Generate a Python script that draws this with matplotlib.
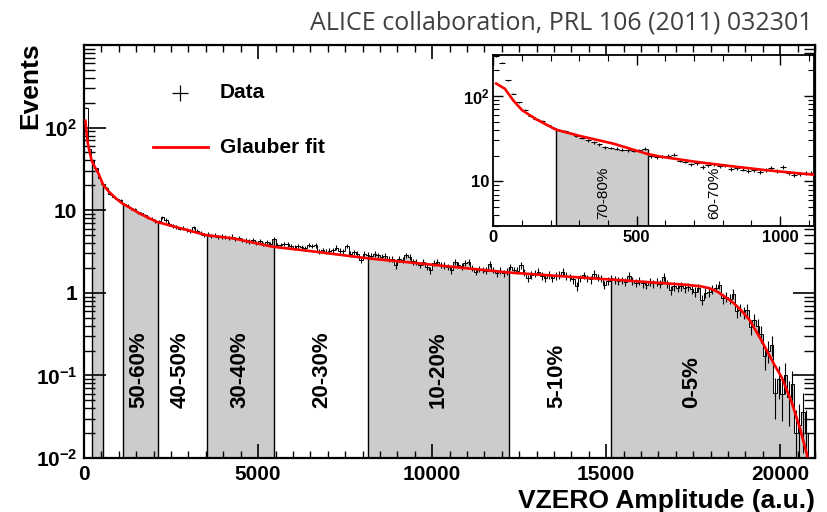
import numpy as np
import matplotlib.pyplot as plt
from matplotlib.ticker import MultipleLocator, FixedLocator, FixedFormatter, LogLocator, NullFormatter

plt.rcParams['font.family'] = ['Liberation Sans', 'DejaVu Sans']
plt.rcParams['font.weight'] = 'bold'
plt.rcParams['mathtext.fontset'] = 'custom'
plt.rcParams['mathtext.rm'] = 'Liberation Sans'
plt.rcParams['mathtext.bf'] = 'Liberation Sans:bold'

# VZERO amplitude histogram, bins of 100 a.u. starting at 0
bin_width = 100
events = [
    175, 55, 40, 32, 24.5, 21, 18.5, 15.8, 14.4, 13.7, 13.2, 11.9, 11.3, 10.6, 10.3, 9.5, 9.2, 8.7, 8.1, 7.9,
    7.4, 7.3, 8.2, 7.6, 6.8, 6.5, 6.3, 6.0, 6.1, 5.7, 5.6, 6.2, 5.6, 5.3, 5.0, 5.1, 4.9, 5.0, 4.7, 4.8,
    4.7, 4.6, 4.8, 4.5, 4.6, 4.4, 4.3, 4.2, 4.3, 4.0, 4.2, 3.9, 4.1, 3.9, 4.5, 3.8, 3.75, 3.9, 3.85, 3.7,
    3.5, 3.65, 3.55, 3.45, 3.8, 3.7, 3.75, 3.2, 3.3, 3.15, 3.25, 3.3, 3.5, 3.25, 3.2, 3.7, 2.95, 3.1, 2.95, 2.5,
    2.95, 2.9, 2.8, 2.95, 2.85, 2.75, 2.78, 2.6, 2.55, 2.15, 2.6, 2.5, 2.85, 2.7, 2.4, 2.36, 2.2, 2.35, 2.05, 1.87,
    2.3, 2.36, 2.2, 2.15, 2.05, 1.87, 2.36, 2.2, 2.1, 2.3, 2.36, 2.0, 1.8, 1.95, 1.9, 1.85, 2.25, 1.9, 1.72, 1.85,
    1.73, 1.8, 2.05, 1.9, 1.85, 2.15, 1.75, 1.5, 1.65, 1.7, 1.8, 1.6, 1.5, 1.65, 1.5, 1.6, 1.65, 1.8, 1.6, 1.55,
    1.45, 1.2, 1.5, 1.63, 1.5, 1.45, 1.7, 1.55, 1.5, 1.25, 1.4, 1.5, 1.45, 1.38, 1.42, 1.35, 1.6, 1.4, 1.32, 1.38,
    1.3, 1.24, 1.35, 1.3, 1.36, 1.28, 1.56, 1.3, 1.08, 1.2, 1.15, 1.2, 1.13, 1.18, 1.1, 1.03, 1.15, 0.82, 1.0, 1.03,
    1.1, 1.15, 1.24, 0.86, 0.9, 0.85, 0.98, 0.6, 0.62, 0.58, 0.62, 0.39, 0.47, 0.4, 0.32, 0.17, 0.2, 0.235, 0.062, 0.09,
    0.06, 0.1, 0.055, 0.078, 0.02, 0.025, 0.036, 0.02,
]

# zoom on the low-amplitude region, bins of 20 a.u.
inset_width = 20
inset_events = [
    290, 245, 152, 106, 84, 68, 58, 53, 51, 46, 42, 40, 39, 36.5, 34, 32, 30, 28.5, 27, 25,
    24.5, 24, 23.4, 23, 22.8, 23.2, 24, 19.5, 19.2, 19.6, 19.8, 20.5, 17.5, 17, 15.8, 16.2, 14.7, 15.4, 15.8, 15.2,
    15.3, 14.0, 14.4, 13.7, 13.1, 13.6, 12.9, 13.5, 14.3, 13.2, 14.7, 12.5, 11.8, 12.1, 12.6, 12.4,
]

# Glauber fit
fit_x = [10, 40, 70, 100, 150, 220, 300, 420, 535, 580, 700, 810, 950, 1110, 1300, 1600, 2100, 2800,
         3500, 4300, 5400, 6500, 8200, 9500, 10800, 12200, 13700, 15100, 16500, 17300, 17700, 17950,
         18180, 18400, 18650, 18900, 19130, 19470, 19800, 20045, 20330, 20570, 20780]
fit_y = [139, 121, 88, 68, 53, 40, 34, 27.5, 21, 19.5, 17, 15.3, 13.5, 12, 10.8, 9.1, 7.2, 6.0,
         5.0, 4.55, 3.62, 3.2, 2.6, 2.3, 2.02, 1.76, 1.59, 1.45, 1.32, 1.25, 1.2, 1.14,
         1.04, 0.9, 0.76, 0.6, 0.46, 0.26, 0.142, 0.094, 0.047, 0.0225, 0.0105]

# centrality class boundaries
cuts = [217, 538, 1112, 2117, 3534, 5459, 8168, 12210, 15132]
shaded = [(217, 538), (1112, 2117), (3534, 5459), (8168, 12210), (15132, 20800)]
classes = ['50-60%', '40-50%', '30-40%', '20-30%', '10-20%', '5-10%', '0-5%']
class_x = [1580, 2760, 4480, 6830, 10180, 13580, 17460]
inset_classes = ['70-80%', '60-70%']
inset_class_x = [384, 771]

vals = np.array(events, dtype=float)
edges = np.arange(len(vals) + 1) * bin_width
centers = edges[:-1] + bin_width / 2

ivals = np.array(inset_events, dtype=float)
iedges = np.arange(len(ivals) + 1) * inset_width
icenters = iedges[:-1] + inset_width / 2


def value_at(e, v, x):
    i = np.clip(np.searchsorted(e, x, side='right') - 1, 0, len(v) - 1)
    return v[i]


def fill_band(ax, e, v, a, b, bottom):
    inner = e[(e > a) & (e < b)]
    xs = np.concatenate([[a], inner, [b]])
    ys = value_at(e, v, xs[:-1])
    ys = np.append(ys, ys[-1])
    ax.fill_between(xs, ys, bottom, step='post', color='#cccccc', lw=0, zorder=1)


fig = plt.figure(figsize=(8.28, 5.12), dpi=100)
ax = fig.add_axes([0.1015, 0.1055, 0.8829, 0.8066])
ax.set_yscale('log')
ax.set_xlim(0, 21000)
ax.set_ylim(1e-2, 1e3)

for a, b in shaded:
    fill_band(ax, edges, vals, a, b, 1e-2)
for c in cuts:
    ax.vlines(c, 1e-2, value_at(edges, vals, c), color='black', lw=1.0, zorder=2)

err = np.sqrt(vals / 60)
ax.stairs(vals, edges, color='black', lw=0.7, zorder=3)
ax.errorbar(centers, vals, yerr=[np.minimum(err, vals * 0.999), err], fmt='none',
            ecolor='black', elinewidth=0.8, zorder=3)
# the fit drawn in the main pad starts a little above zero
ax.plot(fit_x[1:], fit_y[1:], color='red', lw=1.9, zorder=4)

for name, x in zip(classes, class_x):
    ax.text(x, 0.121, name, transform=ax.get_xaxis_transform(), rotation=90,
            ha='center', va='bottom', fontsize=16, zorder=5)

# legend
ax.plot([0.1313], [0.8838], marker='+', ms=11, mew=0.9, color='black', transform=ax.transAxes)
ax.plot([0.0944, 0.1696], [0.753, 0.753], color='red', lw=2, transform=ax.transAxes)
ax.text(0.186, 0.8838, 'Data', transform=ax.transAxes, va='center', fontsize=15)
ax.text(0.186, 0.753, 'Glauber fit', transform=ax.transAxes, va='center', fontsize=15)

ax.xaxis.set_major_locator(MultipleLocator(5000))
ax.xaxis.set_minor_locator(MultipleLocator(500))
ax.yaxis.set_major_locator(FixedLocator([1e-2, 1e-1, 1, 10, 100]))
ax.yaxis.set_major_formatter(FixedFormatter([r'$\mathbf{10^{-2}}$', r'$\mathbf{10^{-1}}$', '1', '10',
                                             r'$\mathbf{10^{2}}$']))
ax.yaxis.set_minor_locator(LogLocator(base=10, subs=range(2, 10), numticks=20))
ax.yaxis.set_minor_formatter(NullFormatter())
ax.tick_params(which='both', direction='in', top=True, right=True, labelsize=15)
ax.tick_params(axis='x', which='major', length=10, width=1.2, pad=5)
ax.tick_params(axis='x', which='minor', length=5, width=1)
ax.tick_params(axis='y', which='major', length=16, width=1.2, pad=5)
ax.tick_params(axis='y', which='minor', length=8, width=1)
for s in ax.spines.values():
    s.set_linewidth(1.6)

fig.text(0.0362, 0.833, 'Events', rotation=90, ha='center', va='center', fontsize=19)
fig.text(0.9843, 0.008, 'VZERO Amplitude (a.u.)', ha='right', va='baseline', fontsize=19)
fig.text(0.982, 0.943, 'ALICE collaboration, PRL 106 (2011) 032301', ha='right', va='baseline',
         fontsize=18, family='Open Sans', weight='normal', color='#404040')

# inset
axi = fig.add_axes([0.5958, 0.5586, 0.3877, 0.334])
axi.set_facecolor('white')
axi.set_yscale('log')
axi.set_xlim(0, 1120)
axi.set_ylim(3, 300)
fill_band(axi, iedges, ivals, 217, 538, 3)
for c in cuts[:2]:
    axi.vlines(c, 3, value_at(iedges, ivals, c), color='black', lw=1.0, zorder=2)
ierr = np.sqrt(ivals / 30)
axi.errorbar(icenters, ivals, xerr=inset_width / 2, yerr=ierr, fmt='none',
             ecolor='black', elinewidth=0.8, zorder=3)
axi.plot(fit_x, fit_y, color='red', lw=1.9, zorder=4)
for name, x in zip(inset_classes, inset_class_x):
    axi.text(x, 0.04, name, transform=axi.get_xaxis_transform(), rotation=90,
             ha='center', va='bottom', fontsize=11, fontweight='normal', zorder=5)

axi.xaxis.set_major_locator(MultipleLocator(500))
axi.xaxis.set_minor_locator(MultipleLocator(100))
axi.yaxis.set_major_locator(FixedLocator([10, 100]))
axi.yaxis.set_major_formatter(FixedFormatter(['10', r'$\mathbf{10^{2}}$']))
axi.yaxis.set_minor_locator(LogLocator(base=10, subs=range(2, 10), numticks=20))
axi.yaxis.set_minor_formatter(NullFormatter())
axi.tick_params(which='both', direction='in', top=True, right=True, labelsize=12)
axi.tick_params(which='major', length=7, width=1, pad=3)
axi.tick_params(which='minor', length=4, width=0.8)
for s in axi.spines.values():
    s.set_linewidth(1.3)

fig.savefig('out.png', dpi=100)
